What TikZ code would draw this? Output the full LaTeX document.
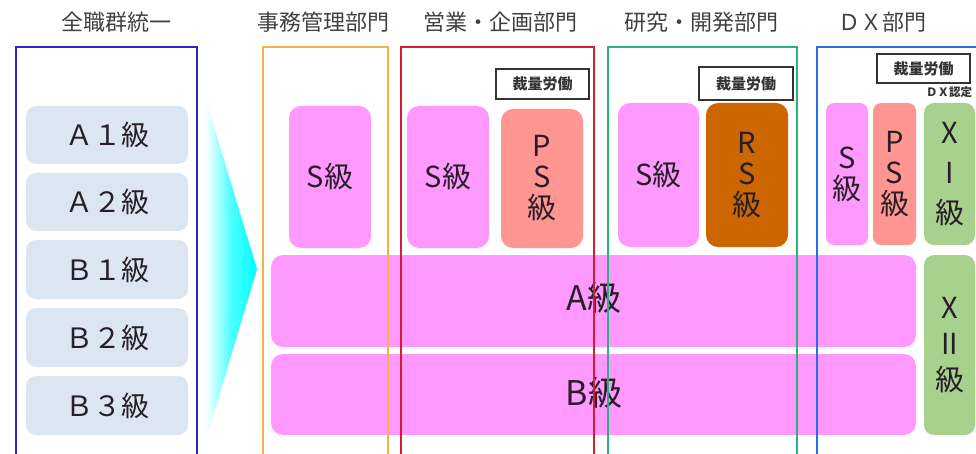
\documentclass[tikz,border=0pt]{standalone}
\usepackage{fontspec}
\setmainfont{Noto Sans CJK JP}
\usetikzlibrary{positioning}
\definecolor{pinkc}{RGB}{255,153,255}
\definecolor{salmonc}{RGB}{255,150,145}
\definecolor{rsc}{RGB}{204,102,0}
\definecolor{greenc}{RGB}{169,209,142}
\definecolor{pillc}{RGB}{220,230,242}
\definecolor{navyc}{RGB}{40,40,200}
\definecolor{orangec}{RGB}{240,180,70}
\definecolor{redc}{RGB}{210,30,50}
\definecolor{greenline}{RGB}{40,180,120}
\definecolor{bluec}{RGB}{40,110,230}
\definecolor{titlec}{RGB}{64,64,64}
\definecolor{textc}{RGB}{40,30,40}
\tikzset{
  title/.style={font=\fontsize{22}{24}\selectfont, text=titlec, inner sep=0pt},
  pill/.style={fill=pillc, rounded corners=10pt, minimum width=162pt, inner sep=0pt,
    font=\fontsize{28}{30}\selectfont, text=textc},
  grade/.style={rounded corners=12pt, inner sep=0pt, align=center, text=textc,
    font=\fontsize{29}{31}\selectfont},
  pinkbox/.style={grade, fill=pinkc},
  salmonbox/.style={grade, fill=salmonc},
  rsbox/.style={grade, fill=rsc},
  greenbox/.style={grade, fill=greenc},
  tagbox/.style={draw=black!80, line width=1.3pt, fill=white, inner sep=0pt,
    font=\bfseries\fontsize{15}{17}\selectfont, text=black!80},
  dept/.style={line width=1.6pt},
}
\begin{document}
\begin{tikzpicture}[x=1pt,y=-1pt]
\useasboundingbox (0,0) rectangle (976,454);
\clip (0,0) rectangle (976,454);
% titles
\node[title] (t0) at (116,22) {全職群統一};
\node[title] (t1) at (323,22) {事務管理部門};
\node[title] (t2) at (500,22) {営業・企画部門};
\node[title] (t3) at (701,22) {研究・開発部門};
\node[title] (t4) at (882,22) {ＤＸ部門};
% left column pills
\node[pill, minimum height=58pt] (a1) at (107,135) {Ａ１級};
\node[pill, minimum height=58pt] (a2) at (107,202) {Ａ２級};
\node[pill, minimum height=59pt] (b1) at (107,269.5) {Ｂ１級};
\node[pill, minimum height=59pt] (b2) at (107,337.5) {Ｂ２級};
\node[pill, minimum height=59pt] (b3) at (107,405.5) {Ｂ３級};
% arrow triangle
\shade[left color=white, right color=cyan, middle color=cyan!70] (205,97) -- (257,269) -- (205,443) -- cycle;
% big grade bars
\node[pinkbox, minimum width=645pt, minimum height=92pt] (ga) at (593.5,301) {};
\node[pinkbox, minimum width=645pt, minimum height=81pt] (gb) at (593.5,394.5) {};
\node[text=textc, font=\fontsize{34}{36}\selectfont, inner sep=0pt] (gat) at (594,298) {A級};
\node[text=textc, font=\fontsize{34}{36}\selectfont, inner sep=0pt] (gbt) at (594,393) {B級};
% 事務
\node[pinkbox, minimum width=82pt, minimum height=142pt] (s1) at (330,177) {S級};
% 営業
\node[pinkbox, minimum width=82pt, minimum height=142pt] (s2) at (448,177) {S級};
\node[salmonbox, minimum width=82pt, minimum height=139pt] (ps2) at (542,178.5) {P\\S\\級};
\node[tagbox, minimum width=93pt, minimum height=30pt] (k2) at (542.5,84) {裁量労働};
% 研究
\node[pinkbox, minimum width=81pt, minimum height=144pt] (s3) at (658.5,175) {S級};
\node[rsbox, minimum width=82pt, minimum height=144pt] (rs3) at (747,175) {R\\S\\級};
\node[tagbox, minimum width=94pt, minimum height=33pt] (k3) at (746,83.5) {裁量労働};
% DX
\node[pinkbox, minimum width=42pt, minimum height=142pt, rounded corners=8pt] (s4) at (847,174) {S\\級};
\node[salmonbox, minimum width=43pt, minimum height=142pt, rounded corners=8pt] (ps4) at (894.5,174) {P\\S\\級};
\node[greenbox, minimum width=51pt, minimum height=142pt, rounded corners=10pt, font=\fontsize{29}{40}\selectfont] (x1) at (949.5,174) {X\\I\\級};
\node[greenbox, minimum width=51pt, minimum height=180pt, rounded corners=10pt, font=\fontsize{29}{36}\selectfont] (x2) at (949.5,345) {X\\II\\級};
\node[tagbox, minimum width=93pt, minimum height=29pt] (k4) at (923.5,68.5) {裁量労働};
\node[anchor=west, inner sep=0pt, font=\bfseries\fontsize{11.5}{13}\selectfont, text=black!80] (dx) at (926,92) {ＤＸ認定};
% department frames
\draw[dept, navyc] (16,47) rectangle (197,470);
\draw[dept, orangec] (263,47) rectangle (388,470);
\draw[dept, redc] (401,47) rectangle (594,470);
\draw[dept, greenline] (608,47) rectangle (797,470);
\draw[dept, bluec] (817,47) rectangle (1000,470);
\end{tikzpicture}
\end{document}
